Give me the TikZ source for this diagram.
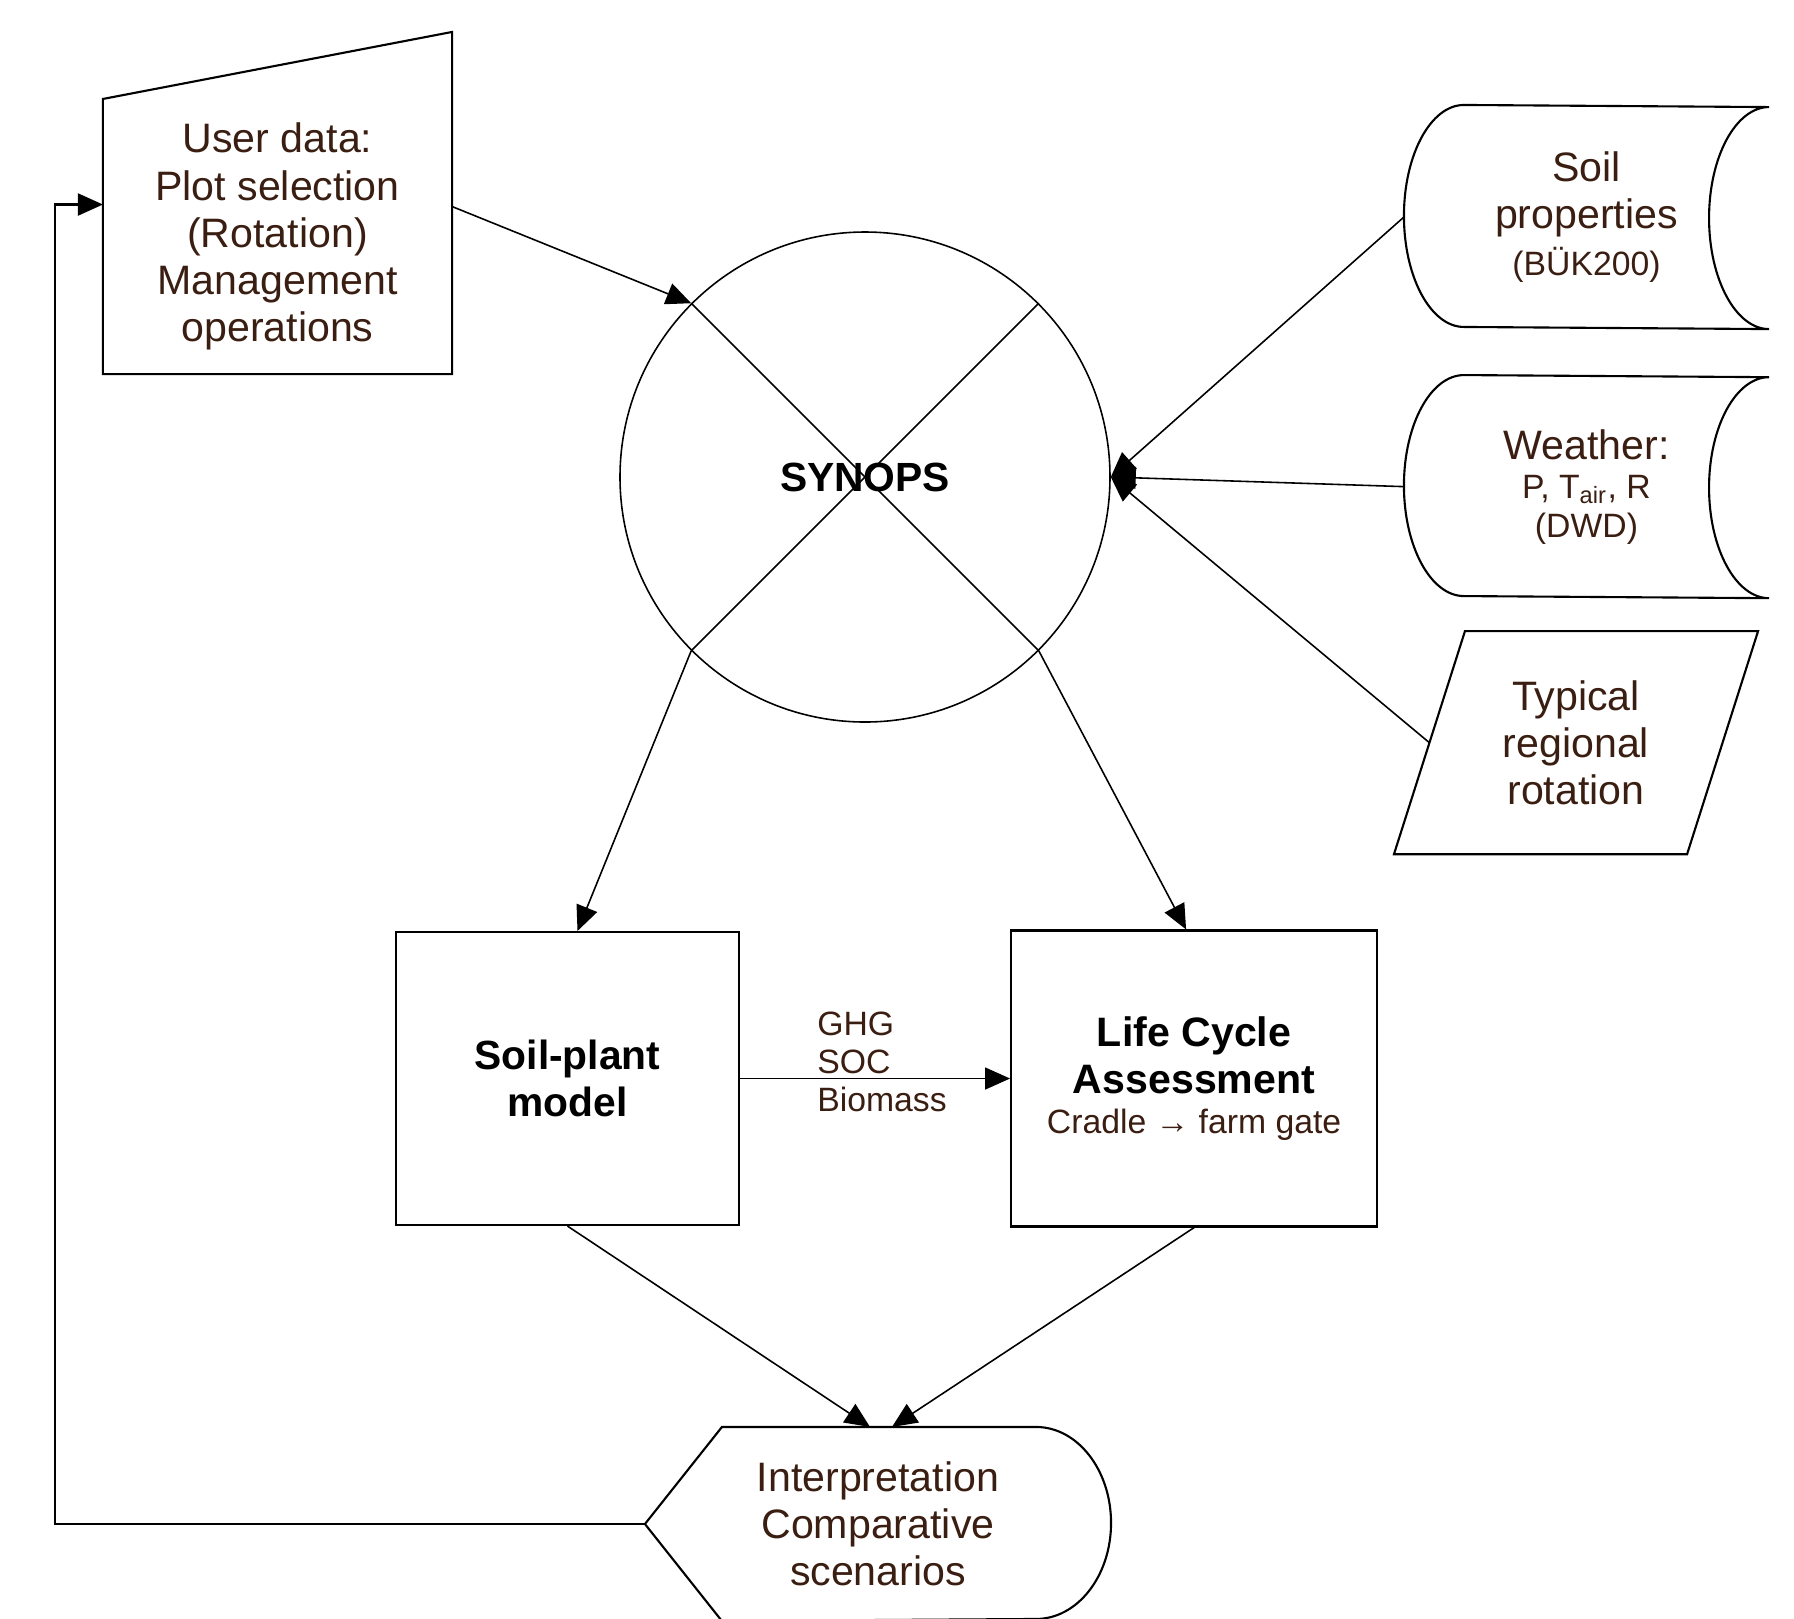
\documentclass[tikz,border=0pt]{standalone}
\usepackage{fontspec}
\setmainfont{Liberation Sans}
\usetikzlibrary{arrows.meta,positioning,calc}
\definecolor{txtbrown}{HTML}{3A1E12}
\newcommand{\minor}[1]{{\fontsize{9.6}{10.8}\selectfont #1}}

\begin{document}
\begin{tikzpicture}[node distance=1cm and 1cm, line width=0.6pt,
        every node/.style={align=center, text=txtbrown, font=\fontsize{11.7}{13.4}\selectfont},
        small/.style={font=\fontsize{9.6}{10.8}\selectfont},
        strong/.style={text=black, font=\fontsize{11.6}{13.4}\selectfont\bfseries},
        arr/.style={-{Triangle[length=2.5mm, width=2.2mm]}, line width=0.45pt}]
        \useasboundingbox (0,0) rectangle (17.94,-16.18);

        \node[minimum width=3.47cm, minimum height=2.73cm] (user) at (2.775,-2.365) {User data:\\Plot selection\\(Rotation)\\Management\\operations};
        \draw (user.south west) -- (user.north west) -- ([yshift=0.67cm]user.north east) -- (user.south east) -- cycle;

        \node[circle, draw, line width=0.45pt, minimum size=4.9cm, inner sep=0pt, strong] (synops) at (8.65,-4.77) {SYNOPS};
        \draw[line width=0.45pt] (synops.135) -- (synops.-45) (synops.45) -- (synops.-135);

        \node[minimum width=3.63cm, minimum height=2.22cm] (soil) at (15.865,-2.17) {Soil\\properties\\\minor{(BÜK200)}};
        \draw ([xshift=0.6cm]soil.north west) arc[start angle=90, end angle=270, x radius=0.6cm, y radius=1.11cm] -- (soil.south east) arc[start angle=270, end angle=90, x radius=0.6cm, y radius=1.11cm] -- cycle;

        \node[minimum width=3.63cm, minimum height=2.21cm, below=0.46cm of soil] (weather) {Weather:\\[-2.3pt]\minor{P, T\textsubscript{air}, R}\\[-2.3pt]\minor{(DWD)}};
        \draw ([xshift=0.6cm]weather.north west) arc[start angle=90, end angle=270, x radius=0.6cm, y radius=1.105cm] -- (weather.south east) arc[start angle=270, end angle=90, x radius=0.6cm, y radius=1.105cm] -- cycle;

        \node[minimum width=2.91cm, minimum height=2.21cm, below=0.33cm of weather, xshift=-0.105cm] (typ) {Typical\\regional\\rotation};
        \draw ([xshift=0.355cm]typ.north west) -- ([xshift=0.355cm]typ.north east) -- ([xshift=-0.355cm]typ.south east) -- ([xshift=-0.355cm]typ.south west) -- cycle;

        \node[draw, rectangle, minimum width=3.43cm, minimum height=2.93cm, strong] (plant) at (5.675,-10.785) {Soil-plant\\model};
        \node[draw, rectangle, minimum width=3.66cm, minimum height=2.96cm, right=2.7cm of plant] (lca) {{\color{black}\bfseries Life Cycle}\\{\color{black}\bfseries Assessment}\\[-2pt]\minor{Cradle → farm gate}};

        \node[minimum width=4.64cm, minimum height=1.92cm] (interp) at (8.78,-15.24) {Interpretation\\Comparative\\scenarios};
        \draw (interp.west) -- ([xshift=0.77cm]interp.north west) -- ([xshift=-0.75cm]interp.north east) arc[start angle=90, end angle=-90, x radius=0.75cm, y radius=0.96cm] -- ([xshift=0.77cm]interp.south west) -- cycle;

        \draw[arr] ([yshift=0.3cm]user.east) -- (synops.135);
        \draw[arr] (soil.west) -- (synops.east);
        \draw[arr] (weather.west) -- (synops.east);
        \draw[arr] (typ.west) -- (synops.east);

        \draw[arr] (synops.-135) -- ([xshift=0.1cm]plant.north);
        \draw[arr] (synops.-45) -- ([xshift=-0.08cm]lca.north);
        \draw[arr] (plant.east) -- node[midway, small, align=left, inner sep=0pt, xshift=0.07cm, yshift=0.17cm] (flows) {GHG\\SOC\\Biomass} (lca.west);

        \draw[arr] (plant.south) -- ([xshift=-0.08cm]interp.north);
        \draw[arr] (lca.south) -- ([xshift=0.14cm]interp.north);

        \coordinate (back) at (0.55,-15.24);
        \draw[arr, line width=0.6pt] (interp.west) -- (back) |- ([yshift=0.32cm]user.west);
    \end{tikzpicture}
\end{document}
